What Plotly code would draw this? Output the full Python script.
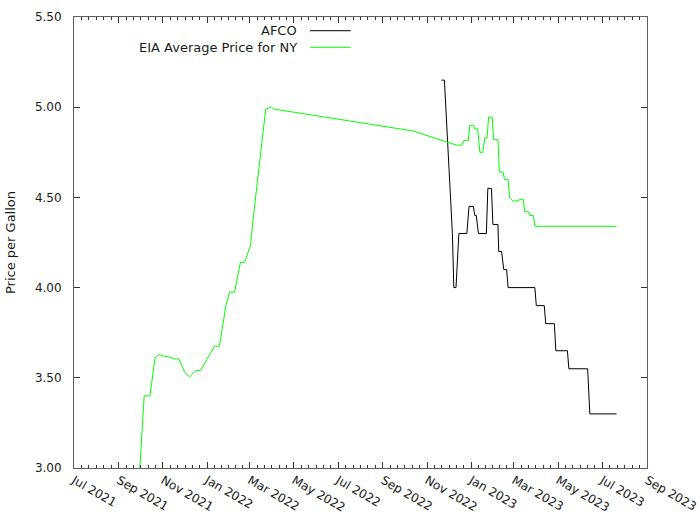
import plotly.graph_objects as go
import pandas as pd

# ---- data ----
eia_dates = ["2021-09-30", "2021-10-06", "2021-10-14", "2021-10-21", "2021-10-27",
             "2021-11-02", "2021-11-10", "2021-11-16", "2021-11-23", "2021-12-01",
             "2021-12-08", "2021-12-16", "2021-12-23", "2022-01-11", "2022-01-18",
             "2022-01-27", "2022-02-01", "2022-02-08", "2022-02-16", "2022-02-22",
             "2022-03-02", "2022-03-05", "2022-03-23", "2022-03-31", "2022-04-03",
             "2022-10-13", "2022-11-28", "2022-12-12", "2022-12-19", "2022-12-22",
             "2022-12-28", "2022-12-30", "2023-01-04", "2023-01-06", "2023-01-10",
             "2023-01-13", "2023-01-17", "2023-01-20", "2023-01-23", "2023-01-25",
             "2023-01-30", "2023-02-01", "2023-02-07", "2023-02-09", "2023-02-14",
             "2023-02-16", "2023-02-21", "2023-02-23", "2023-02-28", "2023-03-07",
             "2023-03-09", "2023-03-14", "2023-03-16", "2023-03-21", "2023-03-23",
             "2023-03-28", "2023-03-30", "2023-07-21"]
eia_prices = [3.00, 3.40, 3.40, 3.61, 3.63,
              3.62, 3.615, 3.605, 3.605, 3.53,
              3.505, 3.54, 3.54, 3.675, 3.675,
              3.90, 3.975, 3.975, 4.14, 4.14,
              4.235, 4.36, 4.99, 5.00, 4.99,
              4.868, 4.807, 4.79, 4.79, 4.815,
              4.815, 4.90, 4.90, 4.88, 4.88,
              4.75, 4.75, 4.83, 4.83, 4.945,
              4.945, 4.82, 4.82, 4.64, 4.64,
              4.60, 4.60, 4.50, 4.48, 4.48,
              4.49, 4.49, 4.42, 4.42, 4.40,
              4.40, 4.34, 4.34]

afco_dates = ["2022-11-21", "2022-11-25", "2022-12-06", "2022-12-08", "2022-12-11",
              "2022-12-15", "2022-12-26", "2022-12-29", "2023-01-04", "2023-01-06",
              "2023-01-08", "2023-01-11", "2023-01-22", "2023-01-24", "2023-01-29",
              "2023-01-31", "2023-02-07", "2023-02-08", "2023-02-12", "2023-02-15",
              "2023-02-19", "2023-02-21", "2023-03-30", "2023-04-01", "2023-04-12",
              "2023-04-14", "2023-04-26", "2023-04-28", "2023-05-14", "2023-05-16",
              "2023-06-11", "2023-06-14", "2023-07-21"]
afco_prices = [5.15, 5.15, 4.30, 4.00, 4.00,
               4.30, 4.30, 4.45, 4.45, 4.40,
               4.40, 4.30, 4.30, 4.55, 4.55,
               4.35, 4.35, 4.20, 4.20, 4.10,
               4.10, 4.00, 4.00, 3.90, 3.90,
               3.80, 3.80, 3.65, 3.65, 3.55,
               3.55, 3.30, 3.30]

x_tick_dates = ["2021-07-01", "2021-09-01", "2021-11-01", "2022-01-01", "2022-03-01",
                "2022-05-01", "2022-07-01", "2022-09-01", "2022-11-01", "2023-01-01",
                "2023-03-01", "2023-05-01", "2023-07-01", "2023-09-01"]
x_tick_labels = ["Jul 2021", "Sep 2021", "Nov 2021", "Jan 2022", "Mar 2022",
                 "May 2022", "Jul 2022", "Sep 2022", "Nov 2022", "Jan 2023",
                 "Mar 2023", "May 2023", "Jul 2023", "Sep 2023"]
y_tick_vals = [3.0, 3.5, 4.0, 4.5, 5.0, 5.5]
series_names = ["AFCO", "EIA Average Price for NY"]
series_colors = ["#000000", "#00ff00"]

# minor x ticks: 5 between each pair of major ticks
tk = pd.to_datetime(x_tick_dates)
minor_vals = []
for a, b in zip(tk[:-1], tk[1:]):
    for k in range(1, 6):
        minor_vals.append((a + (b - a) * k / 6).strftime("%Y-%m-%d %H:%M:%S"))

FONT = "DejaVu Sans, sans-serif"
TXT = "#1a1a1a"

fig = go.Figure()
fig.add_trace(go.Scatter(x=afco_dates, y=afco_prices, mode="lines",
                         name=series_names[0], showlegend=False,
                         line=dict(color=series_colors[0], width=1)))
fig.add_trace(go.Scatter(x=eia_dates, y=eia_prices, mode="lines",
                         name=series_names[1], showlegend=False,
                         line=dict(color=series_colors[1], width=1)))

axis_common = dict(showgrid=False, zeroline=False, showline=True,
                   linecolor="#606060", linewidth=1, mirror="ticks",
                   ticks="inside", ticklen=6, tickcolor="#333333", tickwidth=1,
                   automargin=False,
                   tickfont=dict(family=FONT, size=12, color=TXT))

fig.update_xaxes(**axis_common, type="date",
                 range=["2021-07-01", "2023-09-01"],
                 tickmode="array", tickvals=x_tick_dates, ticktext=x_tick_labels,
                 tickangle=30,
                 minor=dict(tickvals=minor_vals, ticks="inside", ticklen=3,
                            tickcolor="#333333", tickwidth=1))
fig.update_yaxes(**axis_common, range=[3.0, 5.5],
                 tickmode="array", tickvals=y_tick_vals,
                 ticktext=[f"{v:.2f}" for v in y_tick_vals],
                 ticklabelstandoff=9,
                 title=dict(text="Price per Gallon", standoff=16,
                            font=dict(family=FONT, size=13, color=TXT)))

# gnuplot-style key: text right-aligned, sample line to its right
legend_rows = [0.9696, 0.9328]
annotations = []
shapes = []
for name, color, yy in zip(series_names, series_colors, legend_rows):
    annotations.append(dict(xref="paper", yref="paper", x=0.3925, y=yy,
                            text=name, showarrow=False, xanchor="right",
                            yanchor="middle",
                            font=dict(family=FONT, size=13, color=TXT)))
    shapes.append(dict(type="line", xref="paper", yref="paper",
                       x0=0.4119, x1=0.4829, y0=yy, y1=yy,
                       line=dict(color=color, width=1)))

fig.update_layout(width=700, height=525,
                  margin=dict(l=74, r=53, t=17, b=57),
                  paper_bgcolor="white", plot_bgcolor="white",
                  font=dict(family=FONT, size=12, color=TXT),
                  annotations=annotations, shapes=shapes,
                  showlegend=False)

fig.write_html("out.html")
